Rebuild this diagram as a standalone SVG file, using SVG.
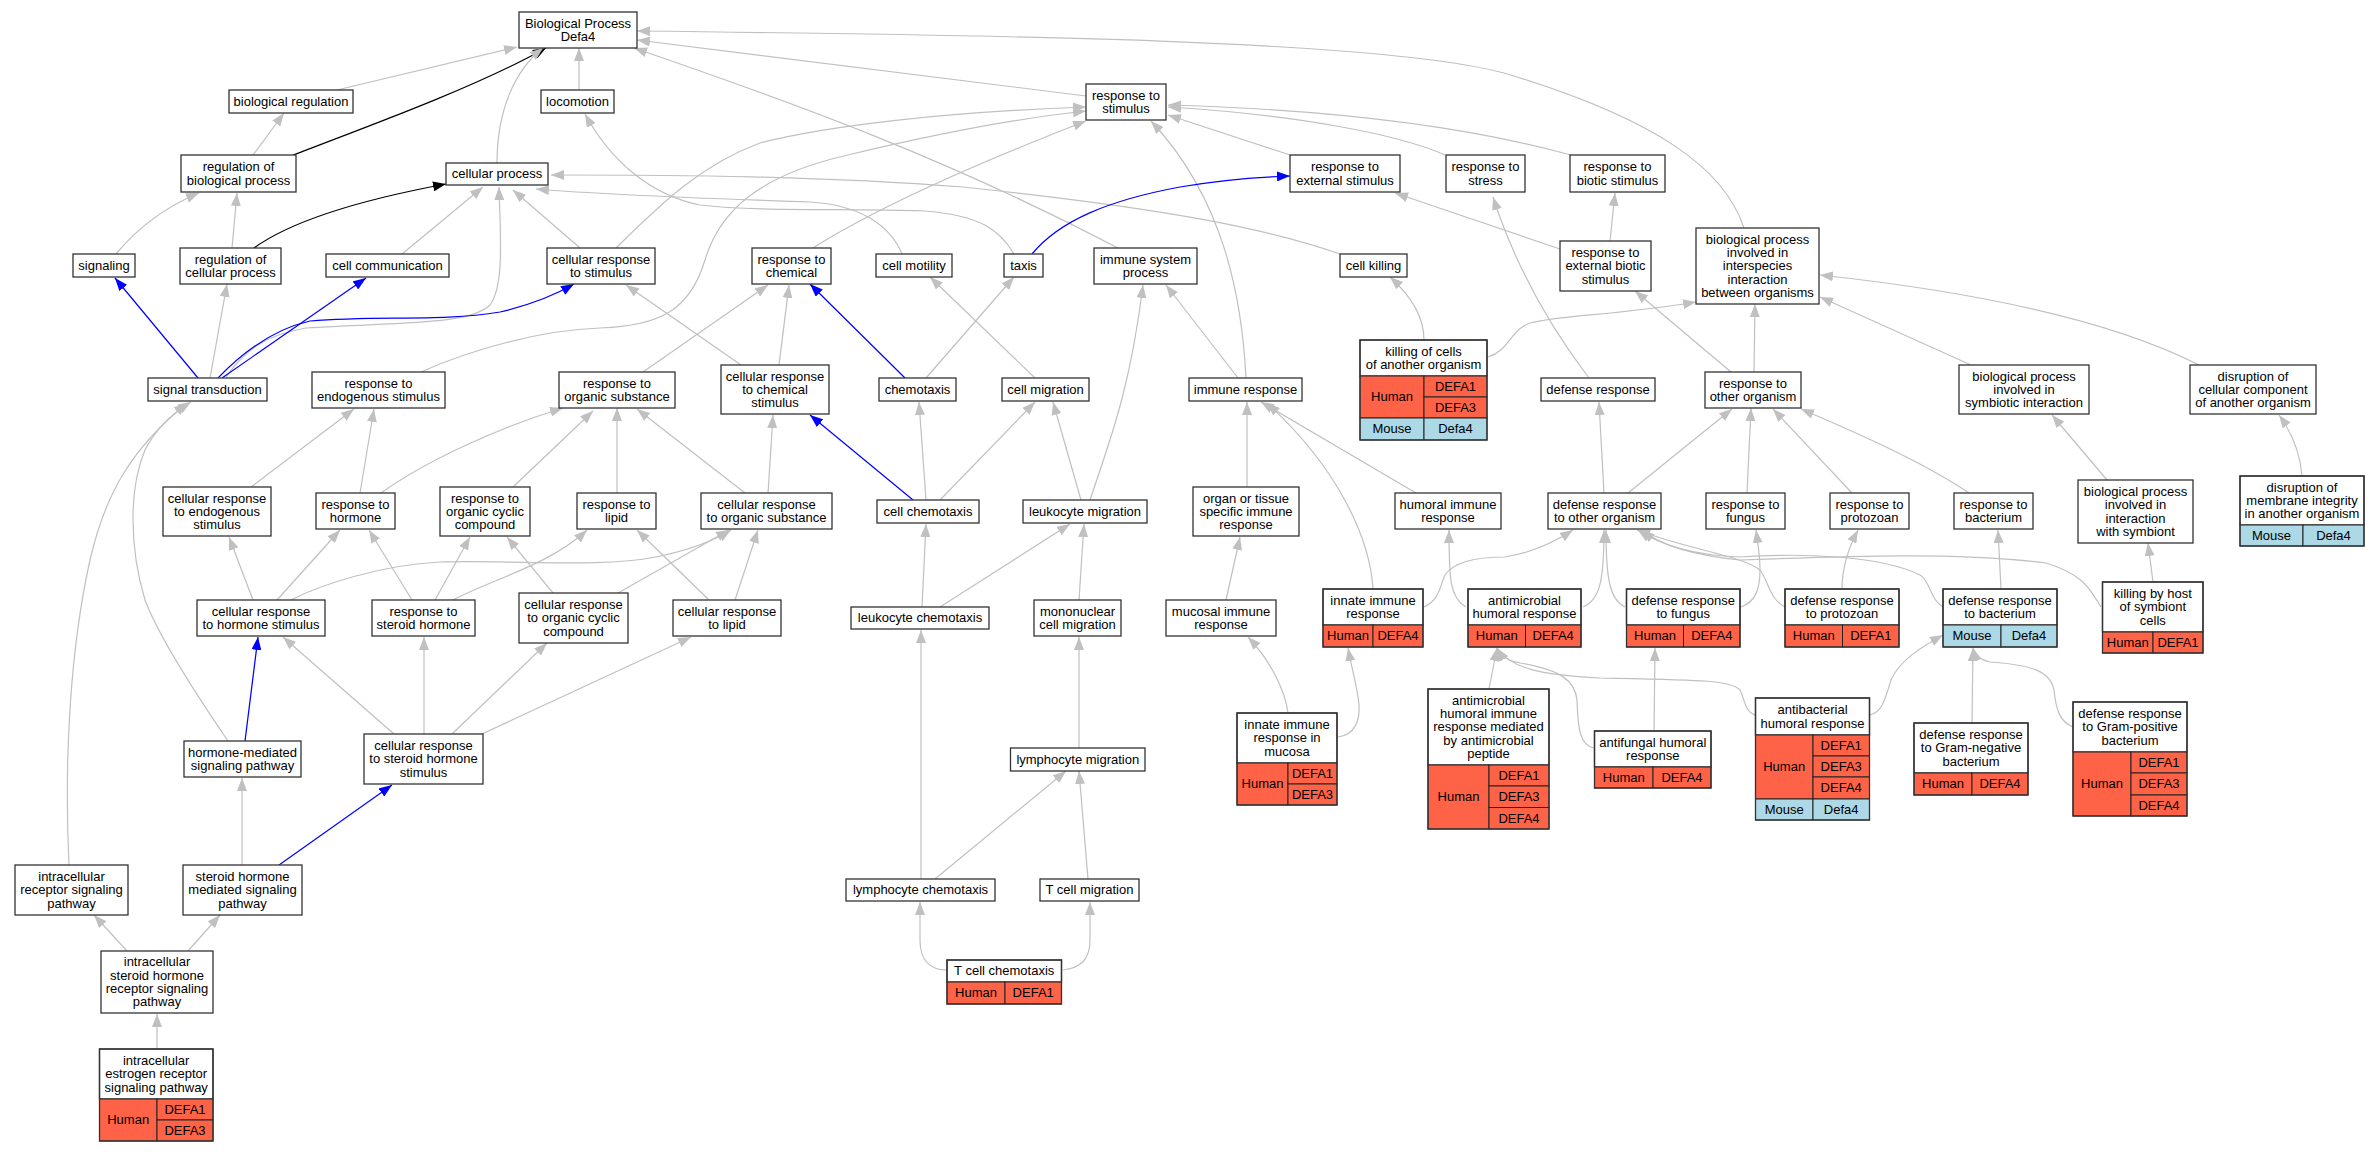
<svg xmlns="http://www.w3.org/2000/svg" width="2380" height="1152" viewBox="0 0 2380 1152">
<style>
.b{fill:#fff;stroke:#333;stroke-width:1.3}
.o{fill:none;stroke:#333;stroke-width:1.3}
.hu{fill:#ff6347;stroke:#222;stroke-width:1}
.mo{fill:#add8e6;stroke:#222;stroke-width:1}
text{font-family:"Liberation Sans",Arial,sans-serif;font-size:13px;text-anchor:middle;fill:#000}
.e{fill:none;stroke:#c0c0c0;stroke-width:1.2;marker-end:url(#ag)}
.k{fill:none;stroke:#000;stroke-width:1.2;marker-end:url(#ak)}
.u{fill:none;stroke:#00f;stroke-width:1.2;marker-end:url(#au)}
</style>
<defs>
<marker id="ag" viewBox="0 0 13 10" refX="13" refY="5" markerWidth="13" markerHeight="10" markerUnits="userSpaceOnUse" orient="auto"><path d="M0,0L13,5L0,10z" fill="#c0c0c0"/></marker>
<marker id="ak" viewBox="0 0 13 10" refX="13" refY="5" markerWidth="13" markerHeight="10" markerUnits="userSpaceOnUse" orient="auto"><path d="M0,0L13,5L0,10z" fill="#000"/></marker>
<marker id="au" viewBox="0 0 13 10" refX="13" refY="5" markerWidth="13" markerHeight="10" markerUnits="userSpaceOnUse" orient="auto"><path d="M0,0L13,5L0,10z" fill="#00f"/></marker>
</defs>
<rect width="2380" height="1152" fill="#fff"/>
<g id="edges">
<path class="e" d="M337,90L517,47"/>
<path class="k" d="M293,155C380,122 480,85 546,48"/>
<path class="e" d="M497,163C497,110 515,70 543,48"/>
<path class="e" d="M579,90L579,48"/>
<path class="e" d="M1086,96L637,40"/>
<path class="e" d="M1744,228C1725,170 1660,120 1504,73C1380,40 1000,35 637,31"/>
<path class="e" d="M1118,248C950,160 800,105 634,48"/>
<path class="e" d="M253,155L284,113"/>
<path class="e" d="M116,254C140,225 170,205 199,193"/>
<path class="e" d="M232,248L237,193"/>
<path class="k" d="M254,248C290,222 360,200 446,184"/>
<path class="e" d="M402,254L483,187"/>
<path class="e" d="M226,377C245,350 265,335 306,328C400,322 470,325 490,305C505,285 500,230 499,187"/>
<path class="e" d="M580,248L513,190"/>
<path class="e" d="M1340,254C1270,230 1180,210 963,187C820,176 680,175 551,175"/>
<path class="e" d="M902,254C890,225 860,205 810,202C700,198 620,196 536,189"/>
<path class="e" d="M1014,254C1000,230 980,215 924,211C850,208 760,212 700,205C650,195 610,160 585,114"/>
<path class="e" d="M616,248C660,205 700,165 760,143C830,125 950,112 1086,107"/>
<path class="e" d="M421,372C470,350 540,330 600,328C660,326 690,310 705,260C720,210 760,175 848,155C940,133 1020,118 1086,111"/>
<path class="e" d="M813,248C870,212 960,170 1086,121"/>
<path class="e" d="M1246,378C1242,300 1225,200 1151,121"/>
<path class="e" d="M1290,155L1168,115"/>
<path class="e" d="M1445,155C1400,135 1300,115 1168,107"/>
<path class="e" d="M1571,155C1480,130 1350,110 1168,105"/>
<path class="u" d="M1032,254C1060,220 1110,200 1180,187C1220,180 1260,177 1290,176"/>
<path class="e" d="M1560,249L1395,193"/>
<path class="e" d="M1610,241L1615,193"/>
<path class="e" d="M1589,378C1560,340 1520,280 1493,197"/>
<path class="e" d="M1731,372L1635,291"/>
<path class="e" d="M1488,357C1510,350 1510,330 1530,323C1560,315 1620,315 1696,302"/>
<path class="e" d="M1754,372L1755,304"/>
<path class="e" d="M1971,365L1820,297"/>
<path class="e" d="M2199,365C2150,340 2050,300 1820,275"/>
<path class="e" d="M1424,340C1424,315 1410,295 1390,277"/>
<path class="u" d="M198,378L115,278"/>
<path class="e" d="M210,378L227,284"/>
<path class="u" d="M222,378L366,278"/>
<path class="u" d="M218,378C240,355 270,330 310,321C380,315 440,322 500,312C530,305 555,295 574,284"/>
<path class="e" d="M741,365L626,285"/>
<path class="u" d="M905,378L810,284"/>
<path class="e" d="M779,365L789,285"/>
<path class="e" d="M643,372L768,285"/>
<path class="e" d="M1035,378L930,277"/>
<path class="e" d="M926,378L1014,277"/>
<path class="e" d="M1090,500C1110,440 1130,390 1143,285"/>
<path class="e" d="M1238,378L1166,285"/>
<path class="e" d="M228,741C200,700 160,640 145,600C130,550 128,490 145,450C155,430 170,415 191,402"/>
<path class="e" d="M69,865C64,760 70,650 90,560C105,495 130,450 187,403"/>
<path class="e" d="M251,487L354,409"/>
<path class="e" d="M360,493L374,409"/>
<path class="e" d="M381,493C420,465 490,430 563,408"/>
<path class="e" d="M513,487L593,411"/>
<path class="e" d="M617,493L617,408"/>
<path class="e" d="M745,493L637,409"/>
<path class="e" d="M768,493L773,415"/>
<path class="u" d="M913,500L810,415"/>
<path class="e" d="M926,500L919,402"/>
<path class="e" d="M940,500L1035,402"/>
<path class="e" d="M1081,500L1053,402"/>
<path class="e" d="M1247,487L1247,402"/>
<path class="e" d="M1373,589C1370,540 1340,470 1267,403"/>
<path class="e" d="M1416,493L1261,402"/>
<path class="e" d="M1604,493L1599,402"/>
<path class="e" d="M1628,493L1732,409"/>
<path class="e" d="M1747,493L1751,408"/>
<path class="e" d="M1852,493L1773,409"/>
<path class="e" d="M1969,493C1920,460 1850,430 1801,409"/>
<path class="e" d="M2107,480L2052,415"/>
<path class="e" d="M2302,476C2300,450 2290,430 2279,415"/>
<path class="e" d="M253,600L229,537"/>
<path class="e" d="M277,600L340,530"/>
<path class="e" d="M412,600L369,530"/>
<path class="e" d="M435,600L470,537"/>
<path class="e" d="M553,593L507,537"/>
<path class="e" d="M453,600C490,580 550,565 587,530"/>
<path class="e" d="M709,600L637,530"/>
<path class="e" d="M291,600C320,585 380,565 440,562C520,560 600,568 656,557C690,550 715,540 731,530"/>
<path class="e" d="M618,593L729,530"/>
<path class="e" d="M735,600L758,530"/>
<path class="e" d="M922,607L926,524"/>
<path class="e" d="M940,607L1070,524"/>
<path class="e" d="M1079,600L1084,524"/>
<path class="e" d="M1226,600L1240,537"/>
<path class="e" d="M1466,607C1450,598 1449,580 1449,530"/>
<path class="e" d="M1424,607C1440,600 1440,585 1445,575C1455,560 1480,557 1505,557C1530,553 1550,545 1573,530"/>
<path class="e" d="M1583,607C1600,600 1604,580 1604,530"/>
<path class="e" d="M1625,607C1610,600 1606,580 1606,530"/>
<path class="e" d="M1785,607C1770,600 1768,580 1760,570C1740,555 1690,550 1637,530"/>
<path class="e" d="M1943,607C1930,600 1930,580 1920,575C1880,555 1800,553 1740,557C1690,555 1660,545 1638,530"/>
<path class="e" d="M2101,607C2090,590 2085,575 2046,563C1960,552 1850,556 1740,560C1690,555 1660,545 1642,530"/>
<path class="e" d="M1489,689L1497,648"/>
<path class="e" d="M1594,748C1580,745 1578,730 1577,700C1575,680 1560,670 1520,663C1505,660 1500,655 1497,648"/>
<path class="e" d="M1755,715C1745,712 1745,700 1740,690C1730,680 1700,680 1600,678C1540,675 1510,668 1497,648"/>
<path class="e" d="M1654,731L1655,648"/>
<path class="e" d="M1288,713C1285,690 1270,660 1248,637"/>
<path class="e" d="M1338,737C1355,735 1360,720 1359,705C1358,690 1352,670 1348,648"/>
<path class="e" d="M1870,715C1882,712 1885,700 1891,680C1900,660 1920,648 1943,635"/>
<path class="e" d="M1972,723L1973,648"/>
<path class="e" d="M2073,727C2060,722 2056,710 2054,690C2050,670 2030,665 1990,662C1980,660 1975,655 1973,648"/>
<path class="e" d="M1741,607C1755,602 1760,590 1760,570C1760,555 1758,545 1756,530"/>
<path class="e" d="M1842,589C1842,565 1850,545 1858,530"/>
<path class="e" d="M2001,589L1998,530"/>
<path class="e" d="M2153,582L2148,543"/>
<path class="u" d="M245,741L258,637"/>
<path class="e" d="M394,734L283,637"/>
<path class="e" d="M424,734L424,637"/>
<path class="e" d="M452,734L547,643"/>
<path class="e" d="M482,734L691,637"/>
<path class="e" d="M921,879L921,630"/>
<path class="e" d="M1079,748L1079,637"/>
<path class="e" d="M935,879L1066,771"/>
<path class="e" d="M1088,879L1079,771"/>
<path class="e" d="M242,865L242,778"/>
<path class="u" d="M279,865L392,785"/>
<path class="e" d="M127,951L94,915"/>
<path class="e" d="M188,951L220,915"/>
<path class="e" d="M157,1049L157,1014"/>
<path class="e" d="M947,970C930,970 920,960 920,940L920,902"/>
<path class="e" d="M1063,970C1080,968 1090,960 1090,940L1090,902"/>
</g>
<g id="nodes">
<g id="n_bp"><rect class="b" x="519" y="12" width="118" height="36"/><text x="578" y="27.6">Biological Process</text><text x="578" y="40.9">Defa4</text></g>
<g id="n_bioreg"><rect class="b" x="229" y="90" width="124" height="23"/><text x="291" y="105.8">biological regulation</text></g>
<g id="n_loco"><rect class="b" x="541" y="90" width="73" height="23"/><text x="577.5" y="105.8">locomotion</text></g>
<g id="n_rstim"><rect class="b" x="1086" y="84" width="80" height="36"/><text x="1126" y="99.6">response to</text><text x="1126" y="112.9">stimulus</text></g>
<g id="n_regbp"><rect class="b" x="181" y="155" width="115" height="37"/><text x="238.5" y="171.2">regulation of</text><text x="238.5" y="184.5">biological process</text></g>
<g id="n_cellproc"><rect class="b" x="446" y="163" width="102" height="22"/><text x="497" y="178.3">cellular process</text></g>
<g id="n_rext"><rect class="b" x="1290" y="155" width="110" height="37"/><text x="1345" y="171.2">response to</text><text x="1345" y="184.5">external stimulus</text></g>
<g id="n_rstress"><rect class="b" x="1446" y="155" width="79" height="37"/><text x="1485.5" y="171.2">response to</text><text x="1485.5" y="184.5">stress</text></g>
<g id="n_rbiotic"><rect class="b" x="1570" y="155" width="95" height="37"/><text x="1617.5" y="171.2">response to</text><text x="1617.5" y="184.5">biotic stimulus</text></g>
<g id="n_signaling"><rect class="b" x="73" y="254" width="62" height="23"/><text x="104" y="269.8">signaling</text></g>
<g id="n_regcp"><rect class="b" x="180" y="248" width="101" height="36"/><text x="230.5" y="263.6">regulation of</text><text x="230.5" y="276.9">cellular process</text></g>
<g id="n_cellcomm"><rect class="b" x="326" y="254" width="123" height="23"/><text x="387.5" y="269.8">cell communication</text></g>
<g id="n_crstim"><rect class="b" x="547" y="248" width="108" height="36"/><text x="601" y="263.6">cellular response</text><text x="601" y="276.9">to stimulus</text></g>
<g id="n_rchem"><rect class="b" x="752" y="248" width="79" height="36"/><text x="791.5" y="263.6">response to</text><text x="791.5" y="276.9">chemical</text></g>
<g id="n_cellmot"><rect class="b" x="876" y="254" width="76" height="23"/><text x="914" y="269.8">cell motility</text></g>
<g id="n_taxis"><rect class="b" x="1004" y="254" width="39" height="23"/><text x="1023.5" y="269.8">taxis</text></g>
<g id="n_immsys"><rect class="b" x="1094" y="248" width="103" height="36"/><text x="1145.5" y="263.6">immune system</text><text x="1145.5" y="276.9">process</text></g>
<g id="n_cellkill"><rect class="b" x="1340" y="254" width="67" height="23"/><text x="1373.5" y="269.8">cell killing</text></g>
<g id="n_rextbio"><rect class="b" x="1560" y="241" width="91" height="50"/><text x="1605.5" y="257">response to</text><text x="1605.5" y="270.3">external biotic</text><text x="1605.5" y="283.6">stimulus</text></g>
<g id="n_bpinter"><rect class="b" x="1696" y="228" width="123" height="76"/><text x="1757.5" y="243.7">biological process</text><text x="1757.5" y="257">involved in</text><text x="1757.5" y="270.3">interspecies</text><text x="1757.5" y="283.6">interaction</text><text x="1757.5" y="296.9">between organisms</text></g>
<g id="n_sigtrans"><rect class="b" x="148" y="378" width="119" height="23"/><text x="207.5" y="393.8">signal transduction</text></g>
<g id="n_rendo"><rect class="b" x="312" y="372" width="133" height="36"/><text x="378.5" y="387.6">response to</text><text x="378.5" y="400.9">endogenous stimulus</text></g>
<g id="n_rorg"><rect class="b" x="559" y="372" width="116" height="36"/><text x="617" y="387.6">response to</text><text x="617" y="400.9">organic substance</text></g>
<g id="n_crchem"><rect class="b" x="721" y="365" width="108" height="49"/><text x="775" y="380.5">cellular response</text><text x="775" y="393.8">to chemical</text><text x="775" y="407.1">stimulus</text></g>
<g id="n_chemotaxis"><rect class="b" x="879" y="378" width="77" height="23"/><text x="917.5" y="393.8">chemotaxis</text></g>
<g id="n_cellmig"><rect class="b" x="1002" y="378" width="87" height="23"/><text x="1045.5" y="393.8">cell migration</text></g>
<g id="n_immresp"><rect class="b" x="1189" y="378" width="113" height="23"/><text x="1245.5" y="393.8">immune response</text></g>
<g id="n_killcells"><rect class="b" x="1360" y="340" width="127" height="36"/><text x="1423.5" y="355.6">killing of cells</text><text x="1423.5" y="368.9">of another organism</text><rect class="hu" x="1360" y="376" width="64" height="42"/><text x="1392" y="401.3">Human</text><rect class="hu" x="1424" y="376" width="63" height="21"/><text x="1455.5" y="390.8">DEFA1</text><rect class="hu" x="1424" y="397" width="63" height="21"/><text x="1455.5" y="411.8">DEFA3</text><rect class="mo" x="1360" y="418" width="64" height="22"/><text x="1392" y="433.3">Mouse</text><rect class="mo" x="1424" y="418" width="63" height="22"/><text x="1455.5" y="433.3">Defa4</text><rect class="o" x="1360" y="340" width="127" height="100"/></g>
<g id="n_defresp"><rect class="b" x="1541" y="378" width="114" height="23"/><text x="1598" y="393.8">defense response</text></g>
<g id="n_rother"><rect class="b" x="1705" y="372" width="96" height="36"/><text x="1753" y="387.6">response to</text><text x="1753" y="400.9">other organism</text></g>
<g id="n_bpsym"><rect class="b" x="1959" y="365" width="130" height="49"/><text x="2024" y="380.5">biological process</text><text x="2024" y="393.8">involved in</text><text x="2024" y="407.1">symbiotic interaction</text></g>
<g id="n_disrupt"><rect class="b" x="2190" y="365" width="126" height="49"/><text x="2253" y="380.5">disruption of</text><text x="2253" y="393.8">cellular component</text><text x="2253" y="407.1">of another organism</text></g>
<g id="n_crendo"><rect class="b" x="163" y="487" width="108" height="49"/><text x="217" y="502.5">cellular response</text><text x="217" y="515.8">to endogenous</text><text x="217" y="529.1">stimulus</text></g>
<g id="n_rhorm"><rect class="b" x="316" y="493" width="79" height="36"/><text x="355.5" y="508.6">response to</text><text x="355.5" y="521.9">hormone</text></g>
<g id="n_rocc"><rect class="b" x="440" y="487" width="90" height="49"/><text x="485" y="502.5">response to</text><text x="485" y="515.8">organic cyclic</text><text x="485" y="529.1">compound</text></g>
<g id="n_rlipid"><rect class="b" x="577" y="493" width="79" height="36"/><text x="616.5" y="508.6">response to</text><text x="616.5" y="521.9">lipid</text></g>
<g id="n_crorg"><rect class="b" x="701" y="493" width="131" height="36"/><text x="766.5" y="508.6">cellular response</text><text x="766.5" y="521.9">to organic substance</text></g>
<g id="n_cellchemo"><rect class="b" x="877" y="500" width="102" height="23"/><text x="928" y="515.8">cell chemotaxis</text></g>
<g id="n_leukmig"><rect class="b" x="1023" y="500" width="124" height="23"/><text x="1085" y="515.8">leukocyte migration</text></g>
<g id="n_organ"><rect class="b" x="1193" y="487" width="106" height="49"/><text x="1246" y="502.5">organ or tissue</text><text x="1246" y="515.8">specific immune</text><text x="1246" y="529.1">response</text></g>
<g id="n_humoral"><rect class="b" x="1395" y="493" width="106" height="36"/><text x="1448" y="508.6">humoral immune</text><text x="1448" y="521.9">response</text></g>
<g id="n_defother"><rect class="b" x="1548" y="493" width="113" height="36"/><text x="1604.5" y="508.6">defense response</text><text x="1604.5" y="521.9">to other organism</text></g>
<g id="n_rfungus"><rect class="b" x="1706" y="493" width="79" height="36"/><text x="1745.5" y="508.6">response to</text><text x="1745.5" y="521.9">fungus</text></g>
<g id="n_rprot"><rect class="b" x="1830" y="493" width="79" height="36"/><text x="1869.5" y="508.6">response to</text><text x="1869.5" y="521.9">protozoan</text></g>
<g id="n_rbact"><rect class="b" x="1954" y="493" width="79" height="36"/><text x="1993.5" y="508.6">response to</text><text x="1993.5" y="521.9">bacterium</text></g>
<g id="n_bpsymb"><rect class="b" x="2078" y="480" width="115" height="63"/><text x="2135.5" y="495.9">biological process</text><text x="2135.5" y="509.2">involved in</text><text x="2135.5" y="522.5">interaction</text><text x="2135.5" y="535.8">with symbiont</text></g>
<g id="n_membrane"><rect class="b" x="2240" y="476" width="124" height="49"/><text x="2302" y="491.5">disruption of</text><text x="2302" y="504.8">membrane integrity</text><text x="2302" y="518.1">in another organism</text><rect class="mo" x="2240" y="525" width="63" height="21"/><text x="2271.5" y="539.8">Mouse</text><rect class="mo" x="2303" y="525" width="61" height="21"/><text x="2333.5" y="539.8">Defa4</text><rect class="o" x="2240" y="476" width="124" height="70"/></g>
<g id="n_crhorm"><rect class="b" x="197" y="600" width="128" height="36"/><text x="261" y="615.6">cellular response</text><text x="261" y="628.9">to hormone stimulus</text></g>
<g id="n_rster"><rect class="b" x="372" y="600" width="103" height="36"/><text x="423.5" y="615.6">response to</text><text x="423.5" y="628.9">steroid hormone</text></g>
<g id="n_crocc"><rect class="b" x="519" y="593" width="109" height="50"/><text x="573.5" y="609">cellular response</text><text x="573.5" y="622.3">to organic cyclic</text><text x="573.5" y="635.6">compound</text></g>
<g id="n_crlipid"><rect class="b" x="673" y="600" width="108" height="36"/><text x="727" y="615.6">cellular response</text><text x="727" y="628.9">to lipid</text></g>
<g id="n_leukchemo"><rect class="b" x="851" y="607" width="138" height="22"/><text x="920" y="622.3">leukocyte chemotaxis</text></g>
<g id="n_mononuc"><rect class="b" x="1034" y="600" width="87" height="36"/><text x="1077.5" y="615.6">mononuclear</text><text x="1077.5" y="628.9">cell migration</text></g>
<g id="n_mucosal"><rect class="b" x="1166" y="600" width="110" height="36"/><text x="1221" y="615.6">mucosal immune</text><text x="1221" y="628.9">response</text></g>
<g id="n_innate"><rect class="b" x="1323" y="589" width="100" height="36"/><text x="1373" y="604.6">innate immune</text><text x="1373" y="617.9">response</text><rect class="hu" x="1323" y="625" width="50" height="22"/><text x="1348" y="640.3">Human</text><rect class="hu" x="1373" y="625" width="50" height="22"/><text x="1398" y="640.3">DEFA4</text><rect class="o" x="1323" y="589" width="100" height="58"/></g>
<g id="n_antimic"><rect class="b" x="1468" y="589" width="113" height="36"/><text x="1524.5" y="604.6">antimicrobial</text><text x="1524.5" y="617.9">humoral response</text><rect class="hu" x="1468" y="625" width="57.5" height="22"/><text x="1496.8" y="640.3">Human</text><rect class="hu" x="1525.5" y="625" width="55.5" height="22"/><text x="1553.2" y="640.3">DEFA4</text><rect class="o" x="1468" y="589" width="113" height="58"/></g>
<g id="n_deffungus"><rect class="b" x="1626.5" y="589" width="113.5" height="36"/><text x="1683.2" y="604.6">defense response</text><text x="1683.2" y="617.9">to fungus</text><rect class="hu" x="1626.5" y="625" width="57" height="22"/><text x="1655" y="640.3">Human</text><rect class="hu" x="1683.5" y="625" width="56.5" height="22"/><text x="1711.8" y="640.3">DEFA4</text><rect class="o" x="1626.5" y="589" width="113.5" height="58"/></g>
<g id="n_defprot"><rect class="b" x="1785" y="589" width="114" height="36"/><text x="1842" y="604.6">defense response</text><text x="1842" y="617.9">to protozoan</text><rect class="hu" x="1785" y="625" width="57.5" height="22"/><text x="1813.8" y="640.3">Human</text><rect class="hu" x="1842.5" y="625" width="56.5" height="22"/><text x="1870.8" y="640.3">DEFA1</text><rect class="o" x="1785" y="589" width="114" height="58"/></g>
<g id="n_defbact"><rect class="b" x="1943" y="589" width="114" height="36"/><text x="2000" y="604.6">defense response</text><text x="2000" y="617.9">to bacterium</text><rect class="mo" x="1943" y="625" width="58" height="22"/><text x="1972" y="640.3">Mouse</text><rect class="mo" x="2001" y="625" width="56" height="22"/><text x="2029" y="640.3">Defa4</text><rect class="o" x="1943" y="589" width="114" height="58"/></g>
<g id="n_killhost"><rect class="b" x="2102.5" y="582" width="100.5" height="50"/><text x="2152.8" y="598">killing by host</text><text x="2152.8" y="611.3">of symbiont</text><text x="2152.8" y="624.6">cells</text><rect class="hu" x="2102.5" y="632" width="50.5" height="21"/><text x="2127.8" y="646.8">Human</text><rect class="hu" x="2153" y="632" width="50" height="21"/><text x="2178" y="646.8">DEFA1</text><rect class="o" x="2102.5" y="582" width="100.5" height="71"/></g>
<g id="n_hormsig"><rect class="b" x="184" y="741" width="117" height="36"/><text x="242.5" y="756.6">hormone-mediated</text><text x="242.5" y="769.9">signaling pathway</text></g>
<g id="n_crster"><rect class="b" x="364" y="734" width="119" height="50"/><text x="423.5" y="750">cellular response</text><text x="423.5" y="763.3">to steroid hormone</text><text x="423.5" y="776.6">stimulus</text></g>
<g id="n_lymmig"><rect class="b" x="1010.5" y="748" width="134.5" height="23"/><text x="1077.8" y="763.8">lymphocyte migration</text></g>
<g id="n_innmuc"><rect class="b" x="1237" y="713" width="100" height="50"/><text x="1287" y="729">innate immune</text><text x="1287" y="742.3">response in</text><text x="1287" y="755.6">mucosa</text><rect class="hu" x="1237" y="763" width="51" height="42"/><text x="1262.5" y="788.3">Human</text><rect class="hu" x="1288" y="763" width="49" height="21"/><text x="1312.5" y="777.8">DEFA1</text><rect class="hu" x="1288" y="784" width="49" height="21"/><text x="1312.5" y="798.8">DEFA3</text><rect class="o" x="1237" y="713" width="100" height="92"/></g>
<g id="n_antipep"><rect class="b" x="1428" y="689" width="121" height="76"/><text x="1488.5" y="704.7">antimicrobial</text><text x="1488.5" y="718">humoral immune</text><text x="1488.5" y="731.3">response mediated</text><text x="1488.5" y="744.6">by antimicrobial</text><text x="1488.5" y="757.9">peptide</text><rect class="hu" x="1428" y="765" width="61" height="64"/><text x="1458.5" y="801.3">Human</text><rect class="hu" x="1489" y="765" width="60" height="21"/><text x="1519" y="779.8">DEFA1</text><rect class="hu" x="1489" y="786" width="60" height="21.5"/><text x="1519" y="801">DEFA3</text><rect class="hu" x="1489" y="807.5" width="60" height="21.5"/><text x="1519" y="822.5">DEFA4</text><rect class="o" x="1428" y="689" width="121" height="140"/></g>
<g id="n_antifung"><rect class="b" x="1594.5" y="731" width="116.5" height="36"/><text x="1652.8" y="746.6">antifungal humoral</text><text x="1652.8" y="759.9">response</text><rect class="hu" x="1594.5" y="767" width="58.5" height="21"/><text x="1623.8" y="781.8">Human</text><rect class="hu" x="1653" y="767" width="58" height="21"/><text x="1682" y="781.8">DEFA4</text><rect class="o" x="1594.5" y="731" width="116.5" height="57"/></g>
<g id="n_antibact"><rect class="b" x="1755.5" y="698" width="114" height="37"/><text x="1812.5" y="714.2">antibacterial</text><text x="1812.5" y="727.5">humoral response</text><rect class="hu" x="1755.5" y="735" width="57.5" height="64"/><text x="1784.2" y="771.3">Human</text><rect class="hu" x="1813" y="735" width="56.5" height="21"/><text x="1841.2" y="749.8">DEFA1</text><rect class="hu" x="1813" y="756" width="56.5" height="21"/><text x="1841.2" y="770.8">DEFA3</text><rect class="hu" x="1813" y="777" width="56.5" height="22"/><text x="1841.2" y="792.3">DEFA4</text><rect class="mo" x="1755.5" y="799" width="57.5" height="21"/><text x="1784.2" y="813.8">Mouse</text><rect class="mo" x="1813" y="799" width="56.5" height="21"/><text x="1841.2" y="813.8">Defa4</text><rect class="o" x="1755.5" y="698" width="114" height="122"/></g>
<g id="n_gramneg"><rect class="b" x="1914" y="723" width="114" height="50"/><text x="1971" y="739">defense response</text><text x="1971" y="752.3">to Gram-negative</text><text x="1971" y="765.6">bacterium</text><rect class="hu" x="1914" y="773" width="58" height="22"/><text x="1943" y="788.3">Human</text><rect class="hu" x="1972" y="773" width="56" height="22"/><text x="2000" y="788.3">DEFA4</text><rect class="o" x="1914" y="723" width="114" height="72"/></g>
<g id="n_grampos"><rect class="b" x="2073" y="702" width="114" height="50"/><text x="2130" y="718">defense response</text><text x="2130" y="731.3">to Gram-positive</text><text x="2130" y="744.6">bacterium</text><rect class="hu" x="2073" y="752" width="58" height="64"/><text x="2102" y="788.3">Human</text><rect class="hu" x="2131" y="752" width="56" height="21"/><text x="2159" y="766.8">DEFA1</text><rect class="hu" x="2131" y="773" width="56" height="22"/><text x="2159" y="788.3">DEFA3</text><rect class="hu" x="2131" y="795" width="56" height="21"/><text x="2159" y="809.8">DEFA4</text><rect class="o" x="2073" y="702" width="114" height="114"/></g>
<g id="n_intrarec"><rect class="b" x="15" y="865" width="113" height="50"/><text x="71.5" y="881">intracellular</text><text x="71.5" y="894.3">receptor signaling</text><text x="71.5" y="907.6">pathway</text></g>
<g id="n_steroidsig"><rect class="b" x="183" y="865" width="119" height="50"/><text x="242.5" y="881">steroid hormone</text><text x="242.5" y="894.3">mediated signaling</text><text x="242.5" y="907.6">pathway</text></g>
<g id="n_lymchemo"><rect class="b" x="846" y="879" width="149" height="22"/><text x="920.5" y="894.3">lymphocyte chemotaxis</text></g>
<g id="n_tcellmig"><rect class="b" x="1040" y="879" width="99" height="22"/><text x="1089.5" y="894.3">T cell migration</text></g>
<g id="n_intraster"><rect class="b" x="101" y="951" width="112" height="62"/><text x="157" y="966.4">intracellular</text><text x="157" y="979.7">steroid hormone</text><text x="157" y="993">receptor signaling</text><text x="157" y="1006.3">pathway</text></g>
<g id="n_tcellchemo"><rect class="b" x="947" y="960" width="114.5" height="22"/><text x="1004.2" y="975.3">T cell chemotaxis</text><rect class="hu" x="947" y="982" width="58" height="22"/><text x="976" y="997.3">Human</text><rect class="hu" x="1005" y="982" width="56.5" height="22"/><text x="1033.2" y="997.3">DEFA1</text><rect class="o" x="947" y="960" width="114.5" height="44"/></g>
<g id="n_estrogen"><rect class="b" x="99.5" y="1049" width="113.5" height="50"/><text x="156.2" y="1065">intracellular</text><text x="156.2" y="1078.3">estrogen receptor</text><text x="156.2" y="1091.6">signaling pathway</text><rect class="hu" x="99.5" y="1099" width="57.5" height="42"/><text x="128.2" y="1124.3">Human</text><rect class="hu" x="157" y="1099" width="56" height="21"/><text x="185" y="1113.8">DEFA1</text><rect class="hu" x="157" y="1120" width="56" height="21"/><text x="185" y="1134.8">DEFA3</text><rect class="o" x="99.5" y="1049" width="113.5" height="92"/></g>
</g>
</svg>
